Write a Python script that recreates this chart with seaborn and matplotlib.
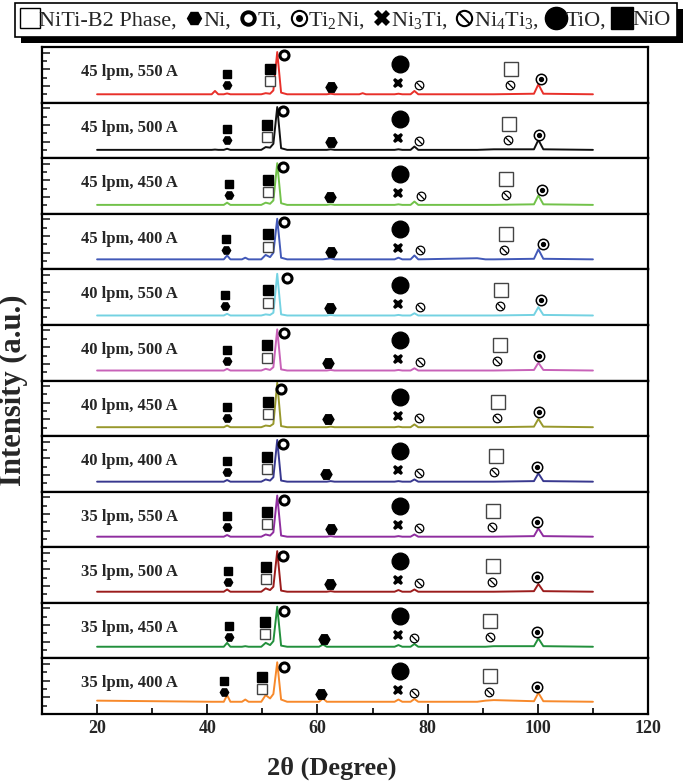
import matplotlib
matplotlib.use('Agg')
import matplotlib.pyplot as plt
from matplotlib.lines import Line2D
from matplotlib.patches import Rectangle
from matplotlib.path import Path
from matplotlib.ticker import MultipleLocator
import seaborn as sns

# sample names, top to bottom
samples = ['45 lpm, 550 A', '45 lpm, 500 A', '45 lpm, 450 A', '45 lpm, 400 A',
           '40 lpm, 550 A', '40 lpm, 500 A', '40 lpm, 450 A', '40 lpm, 400 A',
           '35 lpm, 550 A', '35 lpm, 500 A', '35 lpm, 450 A', '35 lpm, 400 A']
colors = ['#e8302a', '#111111', '#72c24a', '#4259b8', '#74d2e2', '#c862b8',
          '#98982c', '#38388f', '#8f2d9f', '#9b1c1c', '#22903c', '#f7892b']

# 2-theta points (deg) shared by all patterns
two_theta = [20.0, 40.8, 41.4, 42.0, 43.0, 43.6, 44.2, 46.3, 46.9, 47.5,
             49.8, 50.6, 51.4, 52.0, 52.7, 53.4, 54.5, 60.3, 61.0, 61.7,
             62.4, 63.1, 67.6, 68.2, 68.8, 74.0, 74.7, 75.4, 76.9, 77.6,
             78.3, 89.0, 90.5, 92.0, 99.3, 100.1, 101.0, 110.0]

# intensity (panel height = 1)
int_45_550 = [.15, .15, .21, .15, .15, .165, .15, .15, .15, .15, .15, .17, .16, .22, .91, .18, .15, .15, .15, .15,
              .16, .15, .15, .17, .15, .15, .16, .15, .15, .21, .15, .15, .15, .15, .16, .33, .16, .15]
int_45_500 = [.15, .15, .155, .15, .15, .17, .15, .15, .15, .15, .15, .20, .19, .26, .92, .18, .15, .15, .15, .15,
              .16, .15, .15, .15, .15, .15, .16, .15, .15, .21, .15, .15, .155, .16, .16, .33, .16, .15]
int_45_450 = [.16, .16, .16, .16, .16, .20, .16, .16, .16, .16, .16, .20, .18, .24, .91, .19, .16, .16, .16, .16,
              .17, .16, .16, .16, .16, .16, .17, .16, .16, .22, .16, .16, .16, .16, .17, .33, .17, .16]
int_45_400 = [.18, .18, .18, .18, .18, .25, .18, .18, .21, .18, .18, .26, .22, .30, .91, .21, .18, .18, .18, .19,
              .20, .18, .18, .18, .18, .18, .21, .18, .18, .25, .18, .20, .18, .18, .19, .36, .19, .18]
int_40_550 = [.17, .17, .17, .17, .17, .20, .17, .17, .17, .17, .17, .19, .18, .22, .92, .19, .17, .17, .17, .17,
              .18, .17, .17, .17, .17, .17, .18, .17, .17, .21, .17, .17, .17, .17, .18, .32, .18, .17]
int_40_500 = [.18, .18, .18, .18, .18, .21, .18, .18, .18, .18, .18, .21, .19, .24, .92, .20, .18, .18, .18, .18,
              .19, .18, .18, .18, .18, .18, .19, .18, .18, .22, .18, .18, .18, .18, .19, .32, .19, .18]
int_40_450 = [.16, .16, .16, .16, .16, .19, .16, .16, .16, .16, .16, .19, .18, .22, .96, .18, .16, .16, .16, .16,
              .17, .16, .16, .16, .16, .16, .17, .16, .16, .21, .16, .16, .16, .16, .17, .31, .17, .16]
int_40_400 = [.18, .18, .18, .18, .18, .21, .18, .18, .18, .18, .18, .22, .20, .26, .93, .20, .18, .18, .18, .18,
              .19, .18, .18, .18, .18, .18, .19, .18, .18, .22, .18, .18, .18, .18, .19, .33, .19, .18]
int_35_550 = [.19, .19, .19, .19, .19, .22, .19, .19, .19, .19, .19, .23, .21, .27, .93, .21, .19, .19, .19, .19,
              .20, .19, .19, .19, .19, .19, .20, .19, .19, .23, .19, .19, .19, .19, .20, .34, .20, .19]
int_35_500 = [.20, .20, .20, .20, .20, .24, .20, .20, .20, .20, .20, .26, .23, .29, .93, .22, .20, .20, .20, .20,
              .21, .20, .20, .20, .20, .20, .23, .20, .20, .24, .20, .20, .20, .20, .21, .34, .21, .20]
int_35_450 = [.21, .21, .21, .21, .21, .28, .21, .21, .22, .21, .21, .28, .24, .31, .93, .23, .21, .21, .25, .21,
              .21, .21, .21, .21, .21, .21, .24, .21, .21, .26, .21, .21, .21, .22, .22, .36, .22, .21]
int_35_400 = [.24, .22, .22, .22, .22, .34, .22, .22, .26, .22, .22, .34, .28, .36, .93, .26, .22, .22, .28, .22,
              .22, .22, .22, .22, .22, .22, .26, .22, .22, .27, .22, .22, .24, .25, .23, .38, .23, .22]
patterns = [int_45_550, int_45_500, int_45_450, int_45_400, int_40_550, int_40_500,
            int_40_450, int_40_400, int_35_550, int_35_500, int_35_450, int_35_400]
baseline = [.15, .15, .16, .18, .17, .18, .16, .18, .19, .20, .21, .22]

# phase marker positions (2-theta) per panel
pos_nio_43 = [43.6, 43.6, 44.0, 43.4, 43.3, 43.6, 43.6, 43.6, 43.6, 43.8, 44.0, 43.1]
pos_nio_51 = [51.3, 50.9, 51.0, 51.0, 51.1, 50.9, 51.1, 50.9, 50.9, 50.7, 50.4, 50.0]
pos_ti = [54.0, 53.8, 53.8, 53.9, 54.5, 54.0, 53.3, 53.7, 54.0, 53.8, 54.0, 54.0]
pos_ni_62 = [62.5, 62.4, 62.2, 62.5, 62.2, 62.0, 61.9, 61.6, 62.4, 62.2, 61.1, 60.7]
pos_tio = [75.0] * 12
pos_ni3ti = [74.7] * 12
pos_ni4ti3_78 = [78.5, 78.5, 78.8, 78.7, 78.6, 78.6, 78.4, 78.4, 78.5, 78.4, 77.5, 77.5]
pos_b2_95 = [95.2, 94.8, 94.3, 94.2, 93.3, 93.1, 92.8, 92.4, 91.8, 91.8, 91.4, 91.4]
pos_ni4ti3_95 = [94.9, 94.5, 94.2, 93.9, 93.2, 92.6, 92.5, 92.0, 91.6, 91.6, 91.3, 91.1]
pos_ti2ni = [100.5, 100.3, 100.7, 100.9, 100.5, 100.2, 100.2, 99.9, 99.9, 99.8, 99.9, 99.8]

sns.set_theme(style='ticks')
plt.rcParams['font.family'] = ['Liberation Serif', 'DejaVu Serif']
plt.rcParams['mathtext.fontset'] = 'custom'
plt.rcParams['mathtext.rm'] = 'Liberation Serif'
plt.rcParams['mathtext.default'] = 'regular'
plt.rcParams['axes.edgecolor'] = 'black'

slash = Path([(-1, 1), (1, -1)])


def mark(ax, x, y, kind, scale=1.0):
    s = scale
    if kind == 'b2':
        ax.plot(x, y, 's', ms=7.5 * s, mfc='white', mec='#444444', mew=1.0)
    elif kind == 'nio':
        ax.plot(x, y, 's', ms=7.5 * s, color='black')
    elif kind == 'ni':
        ax.plot(x, y, 'H', ms=7.5 * s, color='black')
    elif kind == 'ti':
        ax.plot(x, y, 'o', ms=6.5 * s, mfc='white', mec='black', mew=2.2)
    elif kind == 'ti2ni':
        ax.plot(x, y, 'o', ms=7.5 * s, mfc='white', mec='black', mew=1.1)
        ax.plot(x, y, 'o', ms=2.8 * s, color='black')
    elif kind == 'ni3ti':
        ax.plot(x, y, 'X', ms=7.5 * s, color='black', mew=0)
    elif kind == 'ni4ti3':
        ax.plot(x, y, 'o', ms=6.2 * s, mfc='white', mec='black', mew=0.9)
        ax.plot(x, y, marker=slash, ms=4.4 * s, color='black', mew=0.9)
    elif kind == 'tio':
        ax.plot(x, y, 'o', ms=12 * s, color='black')


fig, axes = plt.subplots(12, 1, figsize=(6.85, 7.84), dpi=100, sharex=True)
fig.subplots_adjust(left=0.0613, right=0.946, top=0.940, bottom=0.0893, hspace=0)

for i, ax in enumerate(axes):
    sns.lineplot(x=two_theta, y=patterns[i], ax=ax, color=colors[i], lw=1.4,
                 estimator=None, sort=False)
    b = baseline[i]
    mark(ax, pos_nio_43[i], b + 0.37, 'nio', 0.75)
    mark(ax, pos_nio_43[i], b + 0.17, 'ni', 0.8)
    mark(ax, pos_nio_51[i], b + 0.45, 'nio')
    mark(ax, pos_nio_51[i], b + 0.23, 'b2')
    mark(ax, pos_ti[i], 0.85, 'ti')
    mark(ax, pos_ni_62[i], b + 0.14, 'ni', 1.05)
    mark(ax, pos_tio[i], b + 0.55, 'tio')
    mark(ax, pos_ni3ti[i], b + 0.21, 'ni3ti')
    mark(ax, pos_ni4ti3_78[i], b + 0.16, 'ni4ti3')
    mark(ax, pos_b2_95[i], b + 0.46, 'b2', 1.4)
    mark(ax, pos_ni4ti3_95[i], b + 0.17, 'ni4ti3')
    mark(ax, pos_ti2ni[i], b + 0.27, 'ti2ni')

    ax.text(17, 0.55, samples[i], fontsize=12, fontweight='bold', va='center', ha='left')

    ax.set_xlim(10, 120)
    ax.set_ylim(0, 1)
    ax.set_ylabel('')
    ax.yaxis.set_major_locator(MultipleLocator(0.3))
    ax.yaxis.set_minor_locator(MultipleLocator(0.15))
    ax.set_yticklabels([])
    ax.tick_params(axis='y', which='major', direction='in', length=6, width=1.2, left=True)
    ax.tick_params(axis='y', which='minor', direction='in', length=3.5, width=1.2, left=True)
    for sp in ax.spines.values():
        sp.set_linewidth(1.6)
        sp.set_visible(True)
    if i < len(axes) - 1:
        ax.tick_params(axis='x', which='both', bottom=False, labelbottom=False)

ax = axes[-1]
ax.xaxis.set_major_locator(MultipleLocator(20))
ax.xaxis.set_minor_locator(MultipleLocator(10))
ax.tick_params(axis='x', which='major', direction='in', length=7, width=1.4, labelsize=13, pad=4)
ax.tick_params(axis='x', which='minor', direction='in', length=4, width=1.4)
for lab in ax.get_xticklabels():
    lab.set_fontweight('bold')
ax.set_xlabel('')
fig.text(0.484, 0.020, '2θ (Degree)', fontsize=19, fontweight='bold', ha='center', va='center')
fig.text(0.019, 0.502, 'Intensity (a.u.)', rotation=90, fontsize=22, fontweight='bold',
         ha='center', va='center')

# legend with black drop shadow
h_b2 = Line2D([], [], ls='none', marker='s', ms=15, mfc='white', mec='black', mew=1)
h_ni = Line2D([], [], ls='none', marker='H', ms=10, color='black')
h_ti = Line2D([], [], ls='none', marker='o', ms=9, mfc='white', mec='black', mew=2.8)
h_ti2ni = (Line2D([], [], ls='none', marker='o', ms=11, mfc='white', mec='black', mew=1.5),
           Line2D([], [], ls='none', marker='o', ms=4, color='black'))
h_ni3ti = Line2D([], [], ls='none', marker='X', ms=11, color='black', mew=0)
h_ni4ti3 = (Line2D([], [], ls='none', marker='o', ms=11, mfc='white', mec='black', mew=1.5),
            Line2D([], [], ls='none', marker=slash, ms=7.8, color='black', mew=1.5))
h_tio = Line2D([], [], ls='none', marker='o', ms=16, color='black')
h_nio = Line2D([], [], ls='none', marker='s', ms=16, color='black')
handles = [h_b2, h_ni, h_ti, h_ti2ni, h_ni3ti, h_ni4ti3, h_tio, h_nio]
labels = ['NiTi-B2 Phase,', 'Ni,', 'Ti,', 'Ti$_2$Ni,', 'Ni$_3$Ti,', 'Ni$_4$Ti$_3$,', 'TiO,', 'NiO']
leg = fig.legend(handles, labels, loc='upper center', bbox_to_anchor=(0.505, 0.996), ncol=8,
                 frameon=True, fancybox=False, edgecolor='black', framealpha=1, fontsize=16,
                 handlelength=0.75, handletextpad=0.05, columnspacing=0.38, borderpad=0.3,
                 borderaxespad=0)
leg.get_frame().set_linewidth(1.2)
fig.canvas.draw()
bb = leg.get_window_extent().transformed(fig.transFigure.inverted())
fig.add_artist(Rectangle((bb.x0 + 6 / 685, bb.y0 - 6 / 784), bb.width, bb.height,
                         transform=fig.transFigure, facecolor='black', edgecolor='none', zorder=4))

fig.savefig('out.png', dpi=100)
